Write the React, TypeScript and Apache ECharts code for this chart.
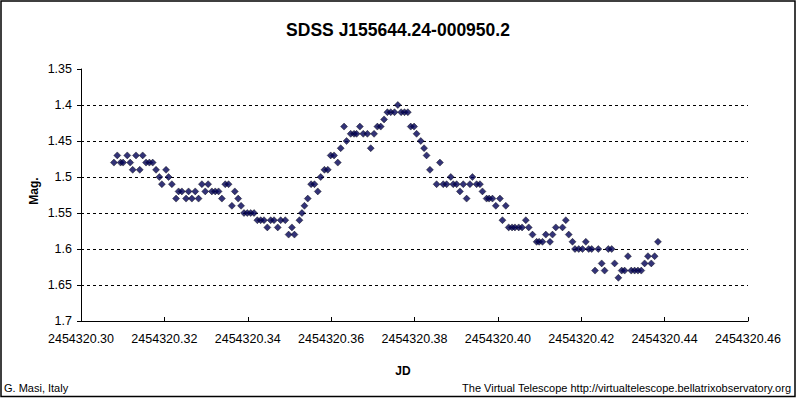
import React, { useEffect, useRef } from "react";
import * as echarts from "echarts";

const JD_BASE = 2454320;
const TITLE = "SDSS J155644.24-000950.2";
const X_TICKS = [0.30, 0.32, 0.34, 0.36, 0.38, 0.40, 0.42, 0.44, 0.46];
const Y_TICKS = [1.35, 1.4, 1.45, 1.5, 1.55, 1.6, 1.65, 1.7];

// JD minus 2454320
const jd: number[] = [
  0.3079, 0.3087, 0.3095, 0.3101, 0.3111, 0.3118, 0.3124, 0.3132, 0.3141, 0.3148,
  0.3156, 0.3164, 0.3172, 0.3180, 0.3188, 0.3194, 0.3204, 0.3210, 0.3218, 0.3228,
  0.3234, 0.3242, 0.3252, 0.3258, 0.3266, 0.3274, 0.3282, 0.3290, 0.3298, 0.3305,
  0.3314, 0.3322, 0.3330, 0.3338, 0.3346, 0.3354, 0.3362, 0.3369, 0.3377, 0.3384,
  0.3391, 0.3399, 0.3407, 0.3415, 0.3423, 0.3431, 0.3439, 0.3447, 0.3455, 0.3463,
  0.3472, 0.3479, 0.3490, 0.3498, 0.3506, 0.3512, 0.3524, 0.3530, 0.3536, 0.3544,
  0.3552, 0.3560, 0.3568, 0.3575, 0.3584, 0.3592, 0.3599, 0.3607, 0.3616, 0.3623,
  0.3631, 0.3637, 0.3647, 0.3655, 0.3661, 0.3669, 0.3677, 0.3687, 0.3695, 0.3703,
  0.3711, 0.3719, 0.3727, 0.3735, 0.3743, 0.3752, 0.3760, 0.3768, 0.3776, 0.3784,
  0.3791, 0.3799, 0.3805, 0.3815, 0.3823, 0.3829, 0.3837, 0.3853, 0.3861, 0.3869,
  0.3877, 0.3887, 0.3893, 0.3901, 0.3909, 0.3917, 0.3925, 0.3933, 0.3939, 0.3949,
  0.3957, 0.3963, 0.3973, 0.3979, 0.3987, 0.3995, 0.4005, 0.4011, 0.4019, 0.4026,
  0.4034, 0.4041, 0.4050, 0.4058, 0.4067, 0.4074, 0.4083, 0.4093, 0.4099, 0.4107,
  0.4115, 0.4125, 0.4131, 0.4139, 0.4155, 0.4163, 0.4170, 0.4179, 0.4185, 0.4194,
  0.4203, 0.4211, 0.4218, 0.4225, 0.4233, 0.4241, 0.4249, 0.4256, 0.4265, 0.4273,
  0.4280, 0.4289, 0.4297, 0.4304, 0.4312, 0.4320, 0.4328, 0.4336, 0.4344, 0.4352,
  0.4360, 0.4368, 0.4376, 0.4384,
];

const mag: number[] = [
  1.48, 1.47, 1.48, 1.48, 1.47, 1.48, 1.49, 1.47, 1.49, 1.47,
  1.48, 1.48, 1.48, 1.49, 1.50, 1.51, 1.49, 1.50, 1.51, 1.53,
  1.52, 1.52, 1.53, 1.52, 1.53, 1.52, 1.53, 1.51, 1.52, 1.51,
  1.52, 1.52, 1.52, 1.53, 1.51, 1.51, 1.54, 1.52, 1.53, 1.54,
  1.55, 1.55, 1.55, 1.55, 1.56, 1.56, 1.56, 1.57, 1.56, 1.56,
  1.57, 1.56, 1.56, 1.58, 1.57, 1.58, 1.56, 1.55, 1.54, 1.53,
  1.51, 1.51, 1.52, 1.50, 1.49, 1.49, 1.47, 1.47, 1.48, 1.46,
  1.43, 1.45, 1.44, 1.44, 1.44, 1.43, 1.44, 1.44, 1.46, 1.44,
  1.43, 1.43, 1.42, 1.41, 1.41, 1.41, 1.40, 1.41, 1.41, 1.41,
  1.43, 1.43, 1.44, 1.45, 1.46, 1.47, 1.49, 1.51, 1.48, 1.51,
  1.51, 1.50, 1.51, 1.51, 1.52, 1.51, 1.53, 1.51, 1.50, 1.51,
  1.51, 1.52, 1.53, 1.53, 1.53, 1.54, 1.53, 1.56, 1.54, 1.57,
  1.57, 1.57, 1.57, 1.57, 1.56, 1.57, 1.58, 1.59, 1.59, 1.59,
  1.58, 1.59, 1.58, 1.57, 1.57, 1.56, 1.58, 1.59, 1.60, 1.60,
  1.60, 1.59, 1.60, 1.60, 1.63, 1.60, 1.62, 1.63, 1.60, 1.60,
  1.62, 1.64, 1.63, 1.63, 1.61, 1.63, 1.63, 1.63, 1.63, 1.62,
  1.61, 1.62, 1.61, 1.59,
];

const FONT = "'Liberation Sans', Arial, sans-serif";

export default function App() {
  const ref = useRef<HTMLDivElement>(null);
  useEffect(() => {
    document.body.style.margin = "0";
    const chart = echarts.init(ref.current!, null, { renderer: "svg" });
    const points = jd.map((x, i) => [x, mag[i]]);
    chart.setOption({
      animation: false,
      backgroundColor: "#ffffff",
      grid: { left: 81, top: 69, right: 49, bottom: 78, containLabel: false },
      xAxis: {
        type: "value",
        min: X_TICKS[0],
        max: X_TICKS[X_TICKS.length - 1],
        interval: 0.02,
        axisLine: { show: true, lineStyle: { color: "#000", width: 1 } },
        axisTick: { show: true, inside: true, length: 4, lineStyle: { color: "#000" } },
        splitLine: { show: false },
        axisLabel: {
          color: "#000",
          fontFamily: FONT,
          fontSize: 12.5,
          margin: 11,
          formatter: (v: number) => String(JD_BASE) + "." + v.toFixed(2).split(".")[1],
        },
      },
      yAxis: {
        type: "value",
        inverse: true,
        min: Y_TICKS[0],
        max: Y_TICKS[Y_TICKS.length - 1],
        interval: 0.05,
        axisLine: { show: true, lineStyle: { color: "#000", width: 1 } },
        axisTick: { show: true, inside: false, length: 4, lineStyle: { color: "#000" } },
        splitLine: {
          show: true,
          showMinLine: false,
          showMaxLine: false,
          lineStyle: { color: "#000", type: [3, 3], width: 1 },
        },
        axisLabel: {
          color: "#000",
          fontFamily: FONT,
          fontSize: 12.5,
          margin: 9,
          formatter: (v: number) => String(parseFloat(v.toFixed(2))),
        },
      },
      series: [
        {
          type: "scatter",
          data: points,
          symbol: "diamond",
          symbolSize: 7,
          itemStyle: { color: "#000055", borderColor: "#000000", borderWidth: 0.5 },
        },
      ],
      graphic: [
        {
          type: "rect",
          shape: { x: 1, y: 1, width: 794, height: 395.5 },
          style: { fill: "none", stroke: "#000", lineWidth: 1.5 },
          silent: true,
        },
        {
          type: "text",
          x: 398,
          y: 30,
          style: {
            text: TITLE,
            font: "bold 17.5px " + FONT,
            fill: "#000",
            align: "center",
            verticalAlign: "middle",
          },
        },
        {
          type: "text",
          x: 33.5,
          y: 191,
          rotation: Math.PI / 2,
          style: {
            text: "Mag.",
            font: "bold 12px " + FONT,
            fill: "#000",
            align: "center",
            verticalAlign: "middle",
          },
        },
        {
          type: "text",
          x: 403,
          y: 371,
          style: {
            text: "JD",
            font: "bold 12px " + FONT,
            fill: "#000",
            align: "center",
            verticalAlign: "middle",
          },
        },
        {
          type: "text",
          x: 4,
          y: 388,
          style: {
            text: "G. Masi, Italy",
            font: "11px " + FONT,
            fill: "#000",
            align: "left",
            verticalAlign: "middle",
          },
        },
        {
          type: "text",
          x: 791,
          y: 388,
          style: {
            text: "The Virtual Telescope http://virtualtelescope.bellatrixobservatory.org",
            font: "11px " + FONT,
            fill: "#000",
            align: "right",
            verticalAlign: "middle",
          },
        },
      ],
    });
    return () => chart.dispose();
  }, []);
  return (
    <div
      ref={ref}
      style={{ position: "absolute", left: 0, top: 0, width: 797, height: 399 }}
    />
  );
}
